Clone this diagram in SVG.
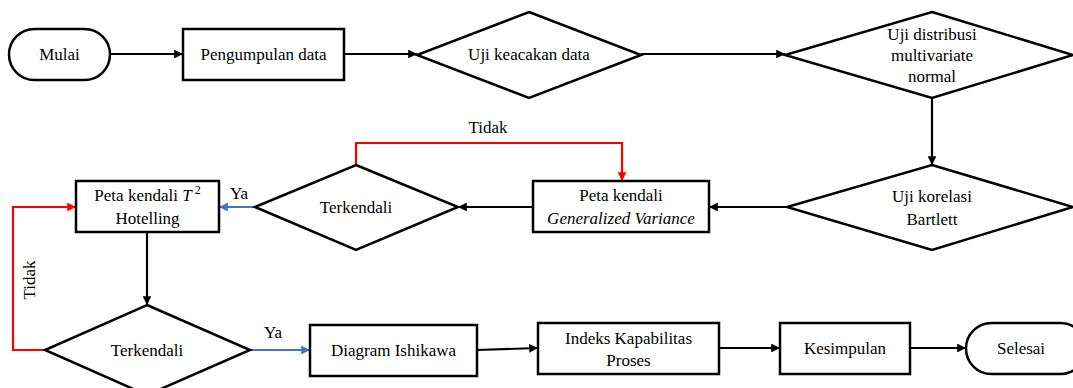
<svg xmlns="http://www.w3.org/2000/svg" width="1073" height="388" viewBox="0 0 1073 388">
<defs>
<marker id="ab" viewBox="0 0 10 10" refX="10" refY="5" markerWidth="4" markerHeight="4" orient="auto"><path d="M0,0 L10,5 L0,10 z" fill="#000"/></marker>
<marker id="ar" viewBox="0 0 10 10" refX="10" refY="5" markerWidth="4" markerHeight="4" orient="auto"><path d="M0,0 L10,5 L0,10 z" fill="#FF0000"/></marker>
<marker id="au" viewBox="0 0 10 10" refX="10" refY="5" markerWidth="4" markerHeight="4" orient="auto"><path d="M0,0 L10,5 L0,10 z" fill="#4472C4"/></marker>
</defs>
<style>
.s{fill:#fff;stroke:#000;stroke-width:2.5}
.t{font-size:17px;fill:#000;text-anchor:middle}
.k{fill:none;stroke:#000;stroke-width:2.2}
.r{fill:none;stroke:#FF0000;stroke-width:2.2}
.b{fill:none;stroke:#4472C4;stroke-width:2.2}
</style>
<rect width="1073" height="388" fill="#fff"/>
<g font-family="Liberation Serif, Times New Roman, serif">
<g id="connectors">
<line class="k" x1="110" y1="54" x2="183" y2="54" marker-end="url(#ab)"/>
<line class="k" x1="344" y1="54" x2="417" y2="54" marker-end="url(#ab)"/>
<line class="k" x1="641" y1="54" x2="785" y2="54" marker-end="url(#ab)"/>
<line class="k" x1="932" y1="98" x2="932" y2="165" marker-end="url(#ab)"/>
<line class="k" x1="787" y1="207" x2="709" y2="207" marker-end="url(#ab)"/>
<line class="k" x1="533" y1="207" x2="458" y2="207" marker-end="url(#ab)"/>
<polyline class="r" points="356,165 356,143 622,143 622,181" marker-end="url(#ar)"/>
<line class="b" x1="255" y1="207" x2="219" y2="207" marker-end="url(#au)"/>
<line class="k" x1="147" y1="232" x2="147" y2="305" marker-end="url(#ab)"/>
<polyline class="r" points="45,350 13,350 13,207 76,207" marker-end="url(#ar)"/>
<line class="b" x1="250" y1="350" x2="310" y2="350" marker-end="url(#au)"/>
<line class="k" x1="477" y1="350" x2="538" y2="348" marker-end="url(#ab)"/>
<line class="k" x1="719" y1="348" x2="780" y2="348" marker-end="url(#ab)"/>
<line class="k" x1="910" y1="348" x2="966" y2="348" marker-end="url(#ab)"/>
<text class="t" x="488" y="133">Tidak</text>
<text class="t" x="239" y="199">Ya</text>
<text class="t" x="273" y="338">Ya</text>
<text class="t" transform="translate(35,280) rotate(-90)">Tidak</text>
</g>
<g id="mulai"><rect class="s" x="9" y="29" width="101" height="51" rx="25.5"/><text class="t" x="59.5" y="60">Mulai</text></g>
<g id="pengumpulan"><rect class="s" x="183" y="29" width="161" height="51"/><text class="t" x="263.5" y="60">Pengumpulan data</text></g>
<g id="keacakan"><polygon class="s" points="529,12 641,55 529,98 417,55"/><text class="t" x="529" y="60">Uji keacakan data</text></g>
<g id="distribusi"><polygon class="s" points="932,12 1073,55 932,98 785,55"/><text class="t" x="932" y="40">Uji distribusi</text><text class="t" x="932" y="61">multivariate</text><text class="t" x="932" y="82">normal</text></g>
<g id="bartlett"><polygon class="s" points="932,165 1073,207 932,250 787,207"/><text class="t" x="932" y="202">Uji korelasi</text><text class="t" x="932" y="225">Bartlett</text></g>
<g id="gv"><rect class="s" x="533" y="181" width="176" height="51"/><text class="t" x="621" y="201">Peta kendali</text><text class="t" x="621" y="224" font-style="italic">Generalized Variance</text></g>
<g id="terkendali1"><polygon class="s" points="356,165 458,207 356,250 255,207"/><text class="t" x="356" y="213">Terkendali</text></g>
<g id="t2"><rect class="s" x="76" y="181" width="143" height="51"/><text class="t" x="147.5" y="201">Peta kendali <tspan font-style="italic">T</tspan><tspan dy="-7" font-size="12"> 2</tspan></text><text class="t" x="147.5" y="224">Hotelling</text></g>
<g id="terkendali2"><polygon class="s" points="147,305 250,350 147,395 45,350"/><text class="t" x="147" y="356">Terkendali</text></g>
<g id="ishikawa"><rect class="s" x="310" y="325" width="167" height="51"/><text class="t" x="393.5" y="356">Diagram Ishikawa</text></g>
<g id="indeks"><rect class="s" x="538" y="323" width="181" height="51"/><text class="t" x="628.5" y="344">Indeks Kapabilitas</text><text class="t" x="628.5" y="366">Proses</text></g>
<g id="kesimpulan"><rect class="s" x="780" y="323" width="130" height="51"/><text class="t" x="845" y="354">Kesimpulan</text></g>
<g id="selesai"><rect class="s" x="966" y="323" width="120" height="51" rx="25.5"/><text class="t" x="1021" y="354">Selesai</text></g>
</g>
</svg>
